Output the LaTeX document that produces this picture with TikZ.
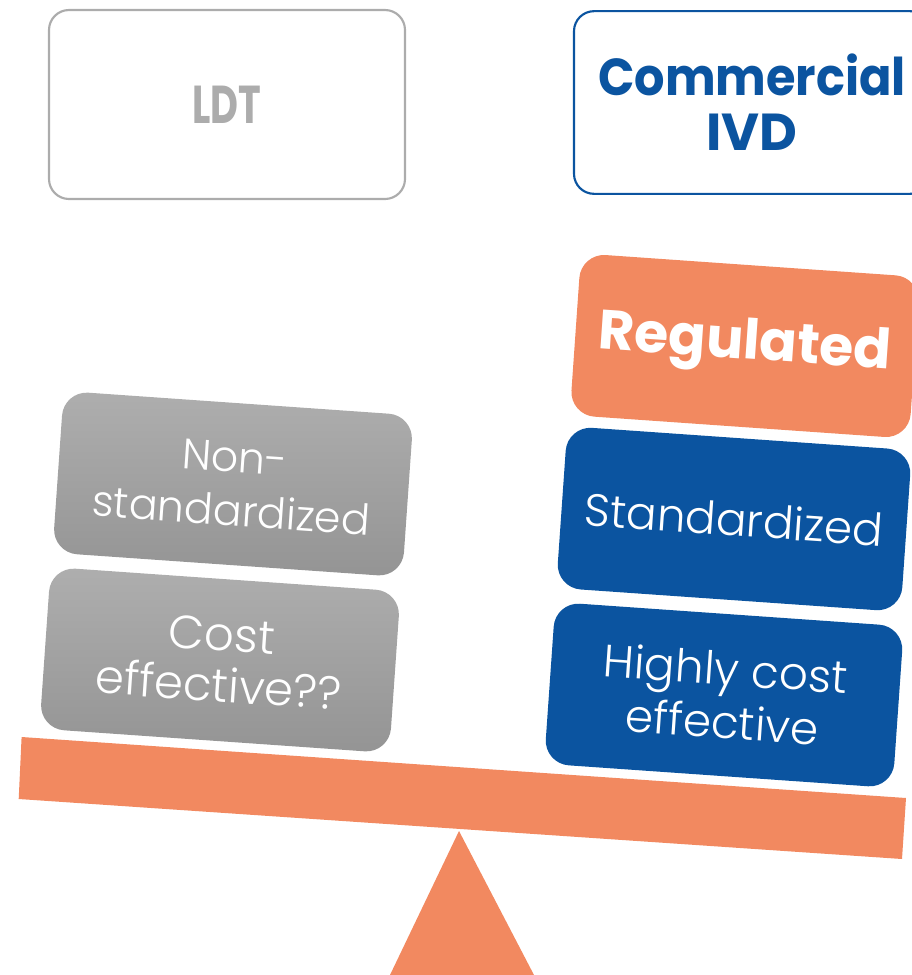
\documentclass[tikz,border=0pt]{standalone}
\usepackage{fontspec}
\setmainfont{Poppins}
\newfontfamily\lightf{Poppins Light}
\definecolor{orng}{RGB}{242,137,96}
\definecolor{ivdblue}{RGB}{11,84,160}
\definecolor{ldtgray}{RGB}{172,172,172}
\definecolor{gtop}{RGB}{174,174,174}
\definecolor{gbot}{RGB}{148,148,148}
\begin{document}
\begin{tikzpicture}[x=0.75pt,y=-0.75pt,
  headbox/.style={draw, line width=1.6pt, rounded corners=15pt, minimum width=267pt, fill=white, align=center, inner sep=0pt},
  tile/.style={rounded corners=18.5pt, minimum height=121.5pt, rotate=-4, align=center, text=white, inner sep=0pt},
  graytile/.style={tile, minimum width=263pt, top color=gtop, bottom color=gbot},
  bluetile/.style={tile, minimum width=259pt, fill=ivdblue},
  orangetile/.style={tile, minimum width=255pt, fill=orng},
  ]
\useasboundingbox (0,0) rectangle (912,975);
\clip (0,0) rectangle (912,975);

% header boxes
\node[headbox, draw=ldtgray, text=ldtgray, minimum height=141.75pt,
      font=\fontsize{40pt}{48pt}\selectfont\bfseries] (ldt) at (227,104.5) {\scalebox{0.72}[1]{LDT}};
\node[headbox, draw=ivdblue, text=ivdblue, minimum height=137pt,
      font=\fontsize{39pt}{41pt}\selectfont\bfseries] (ivd) at (752,102.5) {\scalebox{0.92}[1]{Commercial}\\IVD};

% beam and fulcrum
\fill[orng] (21.6,737) -- (906,798) -- (902,859) -- (18.7,799) -- cycle;
\fill[orng] (459,831) -- (534,975) -- (390,975) -- cycle;

% left stack
\node[graytile, font=\fontsize{32pt}{40.5pt}\lightf\selectfont] (nonstd) at (233,484) {Non-\\standardized};
\node[graytile, font=\fontsize{35pt}{38pt}\lightf\selectfont] (cost) at (220,660) {Cost\\effective??};

% right stack
\node[orangetile, font=\fontsize{41.5pt}{48pt}\selectfont\bfseries] (reg) at (745,346) {Regulated};
\node[bluetile, font=\fontsize{34pt}{40pt}\lightf\selectfont] (std) at (734,519) {Standardized};
\node[bluetile, minimum width=262pt, font=\fontsize{34pt}{40pt}\lightf\selectfont] (high) at (724,695) {Highly cost\\effective};
\end{tikzpicture}
\end{document}
